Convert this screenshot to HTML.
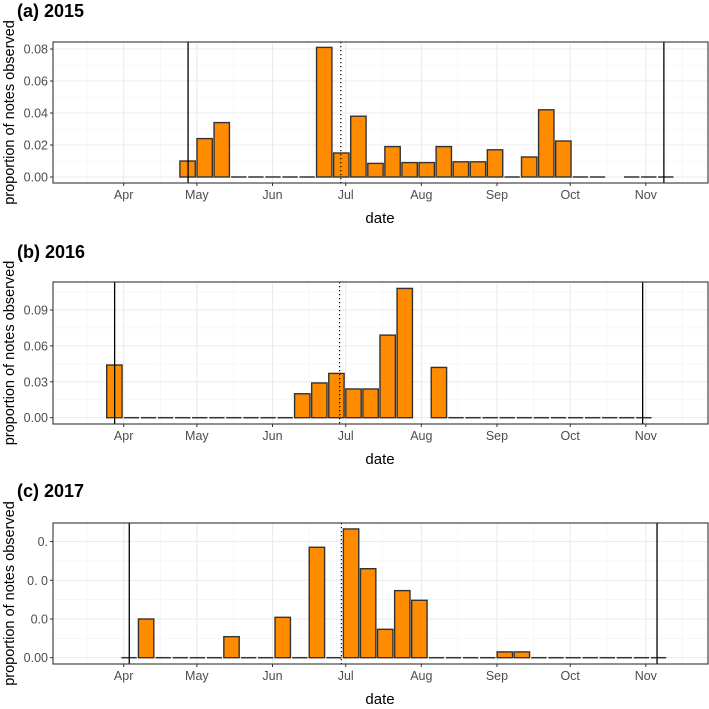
<!DOCTYPE html>
<html><head><meta charset="utf-8">
<style>
body{margin:0;background:#fff;width:709px;height:704px;overflow:hidden}
svg text{font-family:"Liberation Sans",Arial,sans-serif}
</style></head>
<body>
<svg id="chart" width="709" height="704" xmlns="http://www.w3.org/2000/svg"></svg>
<script>
// shared x axis (day of year)
const monthLabels = ["Apr","May","Jun","Jul","Aug","Sep","Oct","Nov"];
const monthDoy = [91,121,152,182,213,244,274,305];
const minorDoy = [76,106,136,167,197,228,259,289,320];

// panel a (2015)
const aStartDoy = 113.7;
const aValues = [0.010,0.024,0.034,0,0,0,0,0,0.081,0.015,0.038,0.0085,0.019,0.009,0.009,0.019,0.0095,0.0095,0.017,0,0.0125,0.042,0.0225,0,0,null,0,0,0];
const aTicks = [0,0.02,0.04,0.06,0.08];
const aTickLabels = ["0.00","0.02","0.04","0.06","0.08"];
const aLines = [117.4,312.4];
const aDotted = 180;

// panel b (2016)
const bStartDoy = 83.7;
const bValues = [0.044,0,0,0,0,0,0,0,0,0,0,0.020,0.029,0.037,0.024,0.024,0.069,0.108,null,0.042,0,0,0,0,0,0,0,0,0,0,0,0];
const bTicks = [0,0.03,0.06,0.09];
const bTickLabels = ["0.00","0.03","0.06","0.09"];
const bLines = [87.3,303.7];
const bDotted = 179.5;

// panel c (2017)
const cStartDoy = 89.7;
const cValues = [0,0.030,0,0,0,0,0.0163,0,0,0.0313,0,0.0856,0,0.0998,0.069,0.022,0.052,0.0445,0,0,0,0,0.0045,0.0045,0,0,0,0,0,0,0,0];
const cTicks = [0,0.03,0.06,0.09];
const cTickLabels = ["0.00","0.0","0. 0","0."];
const cLines = [93.3,309.6];
const cDotted = 180.2;

const NS="http://www.w3.org/2000/svg";
const svg=document.getElementById('chart');
function el(tag,attrs,parent){const e=document.createElementNS(NS,tag);for(const k in attrs)e.setAttribute(k,attrs[k]);(parent||svg).appendChild(e);return e;}
const X0=53,X1=708;
function xScale(d){return 345.7+(d-182)*2.44;}

function panel(cfg){
  const g=el('g',{});
  
  
  const y=v=>cfg.zeroY-v*cfg.k;
  for(let i=0;i<cfg.ticks.length;i++){
    const mv=cfg.ticks[i]+(cfg.ticks[1]-cfg.ticks[0])/2;
    const yy=y(mv); if(yy>cfg.top&&yy<cfg.bottom) el('line',{x1:X0,x2:X1,y1:yy,y2:yy,stroke:'#f2f2f2','stroke-width':0.6},g);
  }
  minorDoy.forEach(d=>{const xx=xScale(d);if(xx>X0&&xx<X1)el('line',{x1:xx,x2:xx,y1:cfg.top,y2:cfg.bottom,stroke:'#f2f2f2','stroke-width':0.6},g);});
  cfg.ticks.forEach(t=>el('line',{x1:X0,x2:X1,y1:y(t),y2:y(t),stroke:'#ebebeb','stroke-width':1.1},g));
  monthDoy.forEach(d=>{const xx=xScale(d);el('line',{x1:xx,x2:xx,y1:cfg.top,y2:cfg.bottom,stroke:'#ebebeb','stroke-width':1.1},g);});
  const bw=17.08*0.9;
  cfg.values.forEach((v,i)=>{
    if(v===null)return;
    const cx=xScale(cfg.start+7*i+3.5);
    if(v===0){
      const l=el('line',{x1:cx-bw/2,x2:cx+bw/2,y1:cfg.zeroY,y2:cfg.zeroY,stroke:'#333','stroke-width':1.5},g);
      
      
    } else {
      const r=el('rect',{x:cx-bw/2,y:y(v),width:bw,height:v*cfg.k,fill:'#ff8c00',stroke:'#333','stroke-width':1.4},g);
      
      
    }
  });
  cfg.lines.forEach(d=>{const xx=xScale(d);const l=el('line',{x1:xx,x2:xx,y1:cfg.top,y2:cfg.bottom,stroke:'#000','stroke-width':1.3},g);
    
    });
  const dx=xScale(cfg.dotted);
  const dl=el('line',{x1:dx,x2:dx,y1:cfg.top,y2:cfg.bottom,stroke:'#000','stroke-width':1.2,'stroke-dasharray':'1.2 2.8'},g);
  
  
  el('rect',{x:X0,y:cfg.top,width:X1-X0,height:cfg.bottom-cfg.top,fill:'none',stroke:'#333','stroke-width':1.1},g);
  cfg.ticks.forEach((t,i)=>{
    el('line',{x1:X0-3,x2:X0,y1:y(t),y2:y(t),stroke:'#333','stroke-width':1},g);
    const tx=el('text',{x:X0-5,y:y(t)+4.5,'text-anchor':'end','font-size':12.5,fill:'#4d4d4d'},g);
    tx.textContent=cfg.tickLabels[i];
    
    
  });
  monthDoy.forEach((d,i)=>{
    const xx=xScale(d);
    el('line',{x1:xx,x2:xx,y1:cfg.bottom,y2:cfg.bottom+3,stroke:'#333','stroke-width':1},g);
    const tx=el('text',{x:xx,y:cfg.bottom+16,'text-anchor':'middle','font-size':12.5,fill:'#4d4d4d'},g);
    tx.textContent=monthLabels[i];
    
    
  });
  const xt=el('text',{x:380,y:cfg.bottom+40,'text-anchor':'middle','font-size':15,fill:'#000'},g);
  xt.textContent='date';
  
  
  const yt=el('text',{x:0,y:0,transform:`translate(14,${(cfg.top+cfg.bottom)/2}) rotate(-90)`,'text-anchor':'middle','font-size':14.5,fill:'#000'},g);
  yt.textContent='proportion of notes observed';
  
  
  const tt=el('text',{x:17,y:cfg.titleY,'font-size':18,'font-weight':'bold',fill:'#000'},g);
  tt.textContent=cfg.title;
  
  
}
panel({name:'panel-2015',title:'(a) 2015',titleY:17,top:42,bottom:183,zeroY:177,k:1600,ticks:aTicks,tickLabels:aTickLabels,values:aValues,start:aStartDoy,lines:aLines,dotted:aDotted});
panel({name:'panel-2016',title:'(b) 2016',titleY:258,top:282,bottom:424,zeroY:417.7,k:1197,ticks:bTicks,tickLabels:bTickLabels,values:bValues,start:bStartDoy,lines:bLines,dotted:bDotted});
panel({name:'panel-2017',title:'(c) 2017',titleY:497,top:523,bottom:664,zeroY:657.7,k:1290,ticks:cTicks,tickLabels:cTickLabels,values:cValues,start:cStartDoy,lines:cLines,dotted:cDotted});
</script>
</body></html>
